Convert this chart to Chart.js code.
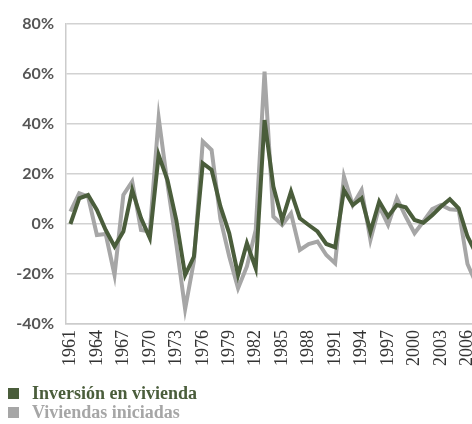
<!DOCTYPE html>
<html>
<head>
<meta charset="utf-8">
<script src="https://cdn.jsdelivr.net/npm/chart.js@4/dist/chart.umd.min.js"></script>
<style>
    html, body { margin: 0; padding: 0; background: #fff; }
    body { width: 472px; height: 424px; overflow: hidden; position: relative; }
    #wrap { position: absolute; left: 0; top: 0; width: 504px; height: 384px; }
    #legend { position: absolute; left: 8px; top: 384px; font-family: "Liberation Serif", serif; font-weight: bold; font-size: 18px; }
    .item { display: flex; align-items: center; height: 19px; }
    .box { width: 11px; height: 11px; margin-right: 13px; }
</style>
</head>
<body>
<div id="wrap"><canvas id="grafico"></canvas></div>
<div id="legend">
    <div class="item" style="color:#4a5d3b"><span class="box" style="background:#4a5d3b"></span>Inversión en vivienda</div>
    <div class="item" style="color:#a6a6a6"><span class="box" style="background:#a6a6a6"></span>Viviendas iniciadas</div>
</div>
<script>
// Años (1961-2007)
const anios = [];
for (let a = 1961; a <= 2007; a++) anios.push(String(a));

// Tasas de variación anual (%)
const inversionVivienda = [
    0, 10.3, 11.6, 5.6, -2.4, -9, -3, 13.6, 2.4, -5.6,
    27.6, 17.6, 1.6, -20.4, -13, 24.3, 21.6, 7, -3.7, -20.4,
    -7.7, -17.7, 41.6, 15, 1.6, 13, 2.3, -0.4, -3, -8,
    -9.3, 13.6, 7.6, 10.3, -3, 9, 3, 7.6, 6.7, 1.6,
    0.5, 3.5, 7, 9.9, 6.3, -5, -12
];
const viviendasIniciadas = [
    5, 12.3, 11, -4.4, -4, -20.4, 11.6, 17, -2.4, -3,
    42.5, 16, -8, -34, -14.7, 33, 29.6, 2, -13, -25.7,
    -17, -2.4, 61, 3, -0.4, 4.3, -10.4, -8, -7, -12.4,
    -15.7, 19, 7.6, 13.6, -6.4, 7, -0.4, 10.3, 3, -3.7,
    1, 6, 7.6, 5.9, 5.6, -16, -24
];

const verde = '#4a5d3b';
const gris = '#a6a6a6';

new Chart(document.getElementById('grafico'), {
    type: 'line',
    data: {
        labels: anios,
        datasets: [
            {
                label: 'Inversión en vivienda',
                data: inversionVivienda,
                borderColor: verde,
                backgroundColor: verde,
                borderWidth: 4,
                pointRadius: 0,
                tension: 0,
                order: 1
            },
            {
                label: 'Viviendas iniciadas',
                data: viviendasIniciadas,
                borderColor: gris,
                backgroundColor: gris,
                borderWidth: 4,
                pointRadius: 0,
                tension: 0,
                order: 2
            }
        ]
    },
    options: {
        responsive: true,
        maintainAspectRatio: false,
        animation: false,
        layout: { padding: { top: 24, right: 8, left: 0, bottom: 0 } },
        plugins: {
            legend: { display: false },
            tooltip: { enabled: false }
        },
        scales: {
            x: {
                offset: true,
                grid: { display: false, drawTicks: false },
                border: { color: '#cccccc', width: 1.5 },
                afterFit: s => { s.height = 60; },
                ticks: {
                    autoSkip: false,
                    minRotation: 90,
                    maxRotation: 90,
                    padding: 6,
                    color: '#333',
                    font: { family: 'Liberation Serif', size: 18 },
                    callback: function(v, i) {
                        return i % 3 === 0 ? this.getLabelForValue(v) : '';
                    }
                }
            },
            y: {
                min: -40,
                max: 80,
                grid: { color: '#d2d2d2', lineWidth: 1.5, drawTicks: false },
                border: { color: '#cccccc', width: 1.5 },
                afterFit: s => { s.width = 66; },
                ticks: {
                    stepSize: 20,
                    padding: 12,
                    color: '#555',
                    font: { family: 'Lato', size: 16, weight: 'bold' },
                    callback: v => v + '%'
                }
            }
        }
    }
});
</script>
</body>
</html>
